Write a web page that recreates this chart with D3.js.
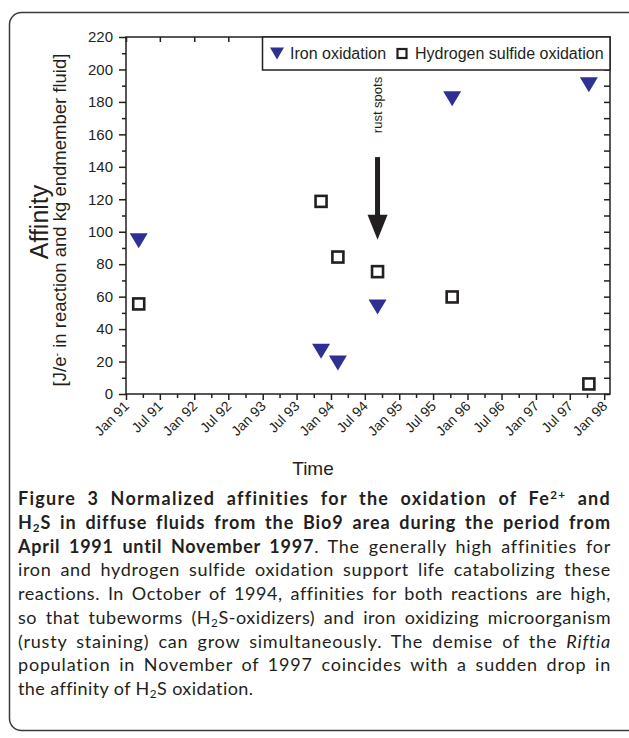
<!DOCTYPE html>
<html><head><meta charset="utf-8">
<script src="https://cdn.jsdelivr.net/npm/d3@7"></script>
<style>
html,body{margin:0;padding:0;background:#fff;}
body{width:629px;height:738px;overflow:hidden;position:relative;}
svg{position:absolute;left:0;top:0;}
#caption{position:absolute;left:18px;top:487px;width:593px;font-family:Lato,"Open Sans",sans-serif;font-size:18px;color:#231f20;}
#caption div{text-align:justify;text-align-last:justify;height:23.75px;line-height:23.75px;}
#caption div.last{text-align-last:left;letter-spacing:0.4px;}
#caption sup,#caption sub{font-size:65%;line-height:0;}
#caption sup{vertical-align:0.55em;}
#caption sub{vertical-align:-0.25em;}
</style></head>
<body>
<svg id="chart" width="629" height="738"></svg>
<div id="caption"></div>
<script>
// ---- data ----
const seriesNames = ["Iron oxidation", "Hydrogen sulfide oxidation"];
const sampleDates = ["1991-03-10", "1993-11-09", "1994-02-07", "1994-09-07", "1995-10-11", "1997-10-11"];
const ironValues = [94.5, 26.3, 19.1, 53.6, 182, 190.6];
const h2sValues = [55.5, 118.7, 84.4, 75.4, 59.8, 6.2];
const yMajorTicks = [0, 20, 40, 60, 80, 100, 120, 140, 160, 180, 200, 220];
const xTickLabels = ["Jan 91","Jul 91","Jan 92","Jul 92","Jan 93","Jul 93","Jan 94","Jul 94","Jan 95","Jul 95","Jan 96","Jul 96","Jan 97","Jul 97","Jan 98"];
const annotationDate = "1994-09-07";
const annotationText = "rust spots";
const arrowFrom = 146, arrowTo = 95;

const ink = "#231f20", blue = "#2e3192";
const FONT = "Liberation Sans, Arial, sans-serif";
const svg = d3.select("#chart");
const parse = d3.utcParse("%Y-%m-%d");
const L = 126, R = 610, T = 37, B = 394;
const x = d3.scaleUtc().domain([Date.UTC(1991,0,1), Date.UTC(1998,1,1)]).range([L, R]);
const y = d3.scaleLinear().domain([0, 220]).range([B, T]);

// frame
svg.append("rect").attr("x",9.5).attr("y",12.5).attr("width",700).attr("height",718).attr("rx",12)
  .attr("fill","none").attr("stroke","#3a3a3a").attr("stroke-width",1.5);

const majorDates = d3.utcMonth.every(6).range(new Date(Date.UTC(1991,0,1)), new Date(Date.UTC(1998,0,2)));
const minorDates = d3.utcMonth.every(3).range(new Date(Date.UTC(1991,0,1)), new Date(Date.UTC(1998,0,2))).filter(d => d.getUTCMonth() % 6 !== 0);
const yMinor = d3.range(10, 220, 20);
const yAll = d3.range(0, 221, 10);

function style(g){ g.selectAll("path.domain").remove(); g.selectAll("line").attr("stroke",ink).attr("stroke-width",1.5); g.selectAll("text").attr("fill",ink); }

// left axis
svg.append("g").attr("transform",`translate(${L},0)`)
  .call(d3.axisLeft(y).tickValues(yMajorTicks).tickSize(7).tickPadding(6))
  .call(style).selectAll("text").attr("font-family",FONT).attr("font-size",15);
svg.append("g").attr("transform",`translate(${L},0)`)
  .call(d3.axisLeft(y).tickValues(yMinor).tickSize(4).tickFormat("")).call(style);
// right axis (inward)
svg.append("g").attr("transform",`translate(${R},0)`)
  .call(d3.axisRight(y).tickValues(yAll).tickSize(-6).tickFormat("")).call(style);
// bottom axis
svg.append("g").attr("transform",`translate(0,${B})`)
  .call(d3.axisBottom(x).tickValues(majorDates).tickSize(6).tickFormat("")).call(style);
svg.append("g").attr("transform",`translate(0,${B})`)
  .call(d3.axisBottom(x).tickValues(minorDates).tickSize(4).tickFormat("")).call(style);
// top axis (inward)
svg.append("g").attr("transform",`translate(0,${T})`)
  .call(d3.axisTop(x).tickValues(majorDates).tickSize(-5).tickFormat("")).call(style);

// x labels
svg.append("g").selectAll("text").data(majorDates).join("text")
  .attr("transform",(d)=>`translate(${x(d)+4},${B+13}) rotate(-45)`)
  .attr("text-anchor","end").attr("font-family",FONT).attr("font-size",14)
  .attr("fill",ink).text((d,i)=>xTickLabels[i]);

// plot border
svg.append("rect").attr("x",L).attr("y",T).attr("width",R-L).attr("height",B-T)
  .attr("fill","none").attr("stroke",ink).attr("stroke-width",1.5);

// axis titles
svg.append("text").attr("transform",`translate(48,222) rotate(-90)`).attr("text-anchor","middle")
  .attr("font-family",FONT).attr("font-size",25).attr("fill",ink).text("Affinity");
const t2 = svg.append("text").attr("transform",`translate(65.5,220) rotate(-90)`).attr("text-anchor","middle")
  .attr("font-family",FONT).attr("font-size",18.5).attr("fill",ink);
t2.append("tspan").text("[J/e");
t2.append("tspan").attr("baseline-shift","super").attr("font-size",11).text("-");
t2.append("tspan").text(" in reaction and kg endmember fluid]");
svg.append("text").attr("x",313).attr("y",475).attr("text-anchor","middle")
  .attr("font-family",FONT).attr("font-size",19).attr("fill",ink).text("Time");

// arrow annotation
const ax = x(parse(annotationDate));
const headLen = 25, headW = 10;
svg.append("line").attr("x1",ax).attr("x2",ax).attr("y1",y(arrowFrom)).attr("y2",y(arrowTo)-headLen+2)
  .attr("stroke",ink).attr("stroke-width",5);
svg.append("path").attr("d",`M${ax-headW},${y(arrowTo)-headLen} L${ax+headW},${y(arrowTo)-headLen} L${ax},${y(arrowTo)} Z`).attr("fill",ink);
svg.append("text").attr("transform",`translate(${ax+4.5},105) rotate(-90)`).attr("text-anchor","middle")
  .attr("font-family",FONT).attr("font-size",13).attr("fill",ink).text(annotationText);

// markers
const tri = (w,h)=>`M${-w/2},${-h/2} L${w/2},${-h/2} L0,${h/2} Z`;
svg.append("g").selectAll("path").data(sampleDates).join("path")
  .attr("transform",(d,i)=>`translate(${x(parse(d))},${y(ironValues[i])})`)
  .attr("d",tri(18,15)).attr("fill",blue);
svg.append("g").selectAll("rect").data(sampleDates).join("rect")
  .attr("x",d=>x(parse(d))-5.5).attr("y",(d,i)=>y(h2sValues[i])-5.5).attr("width",11).attr("height",11)
  .attr("fill","#fff").attr("stroke",ink).attr("stroke-width",2.6);

// legend
const lg = svg.append("g");
lg.append("rect").attr("x",262.5).attr("y",T).attr("width",R-262.5).attr("height",33)
  .attr("fill","#fff").attr("stroke",ink).attr("stroke-width",1.5);
lg.append("path").attr("transform","translate(277,53.5)").attr("d",tri(14,12)).attr("fill",blue);
lg.append("text").attr("x",290).attr("y",59).attr("font-family",FONT)
  .attr("font-size",16).attr("fill",ink).text(seriesNames[0]);
lg.append("rect").attr("x",397.5).attr("y",49).attr("width",9).attr("height",9).attr("fill","#fff")
  .attr("stroke",ink).attr("stroke-width",2.2);
lg.append("text").attr("x",415).attr("y",59).attr("font-family",FONT)
  .attr("font-size",16).attr("fill",ink).text(seriesNames[1]);

// caption
const captionLines = [
  "<b>Figure 3 Normalized affinities for the oxidation of Fe<sup>2+</sup> and</b>",
  "<b>H<sub>2</sub>S in diffuse fluids from the Bio9 area during the period from</b>",
  "<b>April 1991 until November 1997</b>. The generally high affinities for",
  "iron and hydrogen sulfide oxidation support life catabolizing these",
  "reactions. In October of 1994, affinities for both reactions are high,",
  "so that tubeworms (H<sub>2</sub>S-oxidizers) and iron oxidizing microorganism",
  "(rusty staining) can grow simultaneously. The demise of the <i>Riftia</i>",
  "population in November of 1997 coincides with a sudden drop in",
  "the affinity of H<sub>2</sub>S oxidation."
];
const capW = 593;
d3.select("#caption").selectAll("div").data(captionLines).join("div")
  .classed("last",(d,i)=>i===captionLines.length-1)
  .append("span").html(d=>d);
// spread part of the slack into letter spacing so word gaps look natural
d3.select("#caption").selectAll("div").each(function(d,i){
  if (i === captionLines.length-1) return;
  const sp = this.querySelector("span");
  this.style.textAlignLast = "left";
  this.style.textAlign = "left";
  const w = sp.getBoundingClientRect().width;
  const n = sp.textContent.length;
  const ls = Math.max(0, (capW - w) * 0.6 / n);
  this.style.letterSpacing = ls.toFixed(3) + "px";
  this.style.textAlign = "justify";
  this.style.textAlignLast = "justify";
});
</script>
</body></html>
